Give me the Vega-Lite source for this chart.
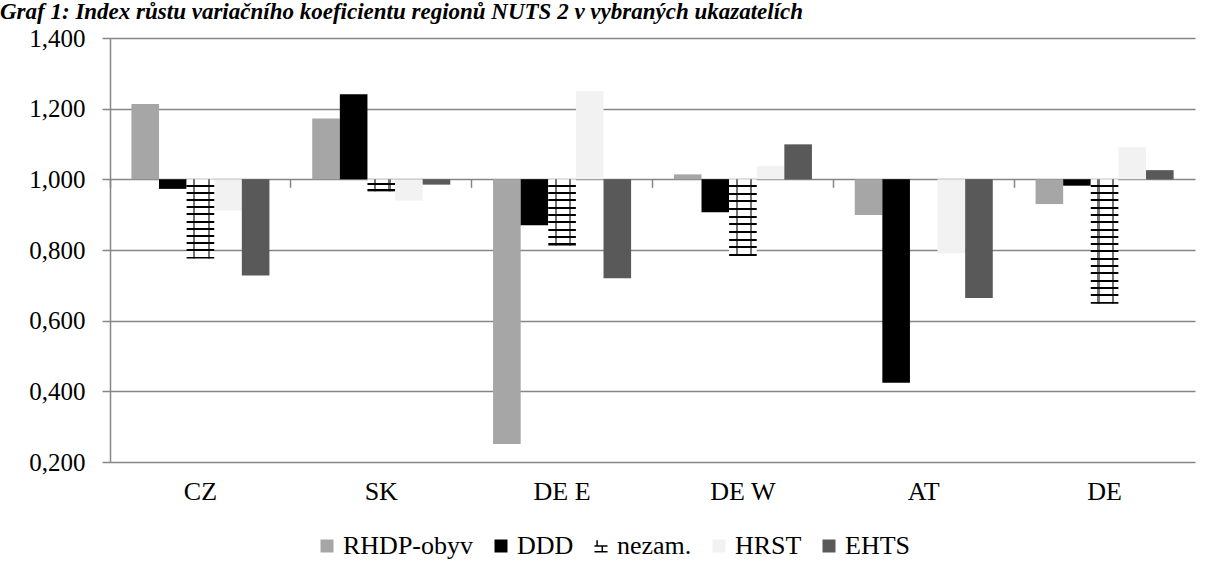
{
  "$schema": "https://vega.github.io/schema/vega-lite/v6.json",
  "width": 1085,
  "height": 424,
  "autosize": {"type": "none"},
  "padding": {"left": 110, "top": 38, "right": 17, "bottom": 116},
  "background": "white",
  "config": {
    "locale": {"number": {"decimal": ",", "thousands": " ", "grouping": [3], "currency": ["", ""]}},
    "font": "Liberation Serif",
    "view": {"stroke": null},
    "axis": {"labelFont": "Liberation Serif", "labelColor": "black"},
    "legend": {"labelFont": "Liberation Serif", "labelColor": "black"}
  },
  "title": {
    "text": "Graf 1: Index růstu variačního koeficientu regionů NUTS 2 v vybraných ukazatelích",
    "anchor": "start",
    "frame": "group",
    "dx": -110,
    "offset": -16,
    "font": "Liberation Serif",
    "fontSize": 23,
    "fontWeight": "bold",
    "fontStyle": "italic",
    "color": "black",
    "baseline": "alphabetic"
  },
  "data": {
    "values": [
      {"country": "CZ", "series": "RHDP-obyv", "value": 1.213},
      {"country": "CZ", "series": "DDD", "value": 0.973},
      {"country": "CZ", "series": "nezam.", "value": 0.776},
      {"country": "CZ", "series": "HRST", "value": 0.911},
      {"country": "CZ", "series": "EHTS", "value": 0.728},
      {"country": "SK", "series": "RHDP-obyv", "value": 1.172},
      {"country": "SK", "series": "DDD", "value": 1.241},
      {"country": "SK", "series": "nezam.", "value": 0.966},
      {"country": "SK", "series": "HRST", "value": 0.94},
      {"country": "SK", "series": "EHTS", "value": 0.985},
      {"country": "DE E", "series": "RHDP-obyv", "value": 0.251},
      {"country": "DE E", "series": "DDD", "value": 0.87},
      {"country": "DE E", "series": "nezam.", "value": 0.813},
      {"country": "DE E", "series": "HRST", "value": 1.25},
      {"country": "DE E", "series": "EHTS", "value": 0.72},
      {"country": "DE W", "series": "RHDP-obyv", "value": 1.014},
      {"country": "DE W", "series": "DDD", "value": 0.907},
      {"country": "DE W", "series": "nezam.", "value": 0.783},
      {"country": "DE W", "series": "HRST", "value": 1.038},
      {"country": "DE W", "series": "EHTS", "value": 1.099},
      {"country": "AT", "series": "RHDP-obyv", "value": 0.899},
      {"country": "AT", "series": "DDD", "value": 0.424},
      {"country": "AT", "series": "nezam.", "value": 1.0},
      {"country": "AT", "series": "HRST", "value": 0.791},
      {"country": "AT", "series": "EHTS", "value": 0.664},
      {"country": "DE", "series": "RHDP-obyv", "value": 0.93},
      {"country": "DE", "series": "DDD", "value": 0.982},
      {"country": "DE", "series": "nezam.", "value": 0.648},
      {"country": "DE", "series": "HRST", "value": 1.091},
      {"country": "DE", "series": "EHTS", "value": 1.026}
    ]
  },
  "encoding": {
    "x": {
      "field": "country",
      "type": "nominal",
      "sort": ["CZ", "SK", "DE E", "DE W", "AT", "DE"],
      "scale": {"paddingInner": 0, "paddingOuter": 0},
      "axis": {
        "title": null,
        "orient": "bottom",
        "offset": -282.67,
        "bandPosition": 0,
        "domain": false,
        "grid": false,
        "tickSize": 8,
        "tickColor": "#868686",
        "tickWidth": 1.5,
        "labelAngle": 0,
        "labelFont": "Liberation Serif",
        "labelColor": "black",
        "labelFontSize": 26,
        "labelPadding": 291
      }
    },
    "xOffset": {
      "field": "series",
      "type": "nominal",
      "scale": {"domain": ["RHDP-obyv", "DDD", "nezam.", "HRST", "EHTS"], "paddingInner": 0, "paddingOuter": 0.775}
    },
    "y": {
      "field": "value",
      "type": "quantitative",
      "scale": {"domain": [0.2, 1.4], "nice": false, "zero": false},
      "axis": {
        "title": null,
        "values": [0.2, 0.4, 0.6, 0.8, 1.0, 1.2, 1.4],
        "format": ".3f",
        "domainColor": "#868686",
        "domainWidth": 1.5,
        "tickColor": "#868686",
        "tickWidth": 1.5,
        "tickSize": 8,
        "gridColor": "#868686",
        "gridWidth": 1.5,
        "labelFont": "Liberation Serif",
        "labelColor": "black",
        "labelFontSize": 25,
        "labelPadding": 17
      }
    },
    "y2": {"datum": 1}
  },
  "layer": [
    {
      "transform": [{"filter": "datum.series !== 'nezam.'"}],
      "mark": {"type": "bar"},
      "encoding": {
        "color": {
          "field": "series",
          "type": "nominal",
          "scale": {
            "domain": ["RHDP-obyv", "DDD", "nezam.", "HRST", "EHTS"],
            "range": ["#a6a6a6", "#000000", "#ffffff", "#f2f2f2", "#595959"]
          },
          "legend": {
            "title": null,
            "orient": "none",
            "direction": "horizontal",
            "legendX": 204,
            "legendY": 495,
            "symbolSize": 169,
            "symbolType": "square",
            "labelFont": "Liberation Serif",
            "labelColor": "black",
            "labelFontSize": 26,
            "labelOffset": 3,
            "columnPadding": 14,
            "labelLimit": 300,
            "encode": {
              "symbols": {
                "update": {
                  "shape": [{"test": "datum.value === 'nezam.'", "value": "M-1,0.9H1M-1,0H1M0.2,0V0.9M-0.6,-0.9V0"}, {"value": "square"}],
                  "stroke": [{"test": "datum.value === 'nezam.'", "value": "#000000"}, {"value": "transparent"}],
                  "strokeWidth": {"value": 1.5}
                }
              }
            }
          }
        }
      }
    },
    {
      "transform": [{"filter": "datum.series === 'nezam.' && datum.country === 'CZ'"}],
      "mark": {
        "type": "bar",
        "fill": {"gradient": "linear", "x1": 0, "y1": 0, "x2": 0, "y2": 1, "stops": [
          {"offset": 0, "color": "#ffffff"}, {"offset": 0.06636, "color": "#ffffff"}, {"offset": 0.06636, "color": "#000000"}, {"offset": 0.09091, "color": "#000000"},
          {"offset": 0.09091, "color": "#ffffff"}, {"offset": 0.15727, "color": "#ffffff"}, {"offset": 0.15727, "color": "#000000"}, {"offset": 0.18182, "color": "#000000"},
          {"offset": 0.18182, "color": "#ffffff"}, {"offset": 0.24818, "color": "#ffffff"}, {"offset": 0.24818, "color": "#000000"}, {"offset": 0.27273, "color": "#000000"},
          {"offset": 0.27273, "color": "#ffffff"}, {"offset": 0.33909, "color": "#ffffff"}, {"offset": 0.33909, "color": "#000000"}, {"offset": 0.36364, "color": "#000000"},
          {"offset": 0.36364, "color": "#ffffff"}, {"offset": 0.43, "color": "#ffffff"}, {"offset": 0.43, "color": "#000000"}, {"offset": 0.45455, "color": "#000000"},
          {"offset": 0.45455, "color": "#ffffff"}, {"offset": 0.52091, "color": "#ffffff"}, {"offset": 0.52091, "color": "#000000"}, {"offset": 0.54545, "color": "#000000"},
          {"offset": 0.54545, "color": "#ffffff"}, {"offset": 0.61182, "color": "#ffffff"}, {"offset": 0.61182, "color": "#000000"}, {"offset": 0.63636, "color": "#000000"},
          {"offset": 0.63636, "color": "#ffffff"}, {"offset": 0.70273, "color": "#ffffff"}, {"offset": 0.70273, "color": "#000000"}, {"offset": 0.72727, "color": "#000000"},
          {"offset": 0.72727, "color": "#ffffff"}, {"offset": 0.79364, "color": "#ffffff"}, {"offset": 0.79364, "color": "#000000"}, {"offset": 0.81818, "color": "#000000"},
          {"offset": 0.81818, "color": "#ffffff"}, {"offset": 0.88455, "color": "#ffffff"}, {"offset": 0.88455, "color": "#000000"}, {"offset": 0.90909, "color": "#000000"},
          {"offset": 0.90909, "color": "#ffffff"}, {"offset": 0.97545, "color": "#ffffff"}, {"offset": 0.97545, "color": "#000000"}, {"offset": 1, "color": "#000000"}
        ]}
      },
      "encoding": {}
    },
    {
      "transform": [{"filter": "datum.series === 'nezam.' && datum.country === 'SK'"}],
      "mark": {
        "type": "bar",
        "fill": {"gradient": "linear", "x1": 0, "y1": 0, "x2": 0, "y2": 1, "stops": [
          {"offset": 0, "color": "#ffffff"}, {"offset": 0.333, "color": "#ffffff"}, {"offset": 0.333, "color": "#000000"}, {"offset": 0.5, "color": "#000000"},
          {"offset": 0.5, "color": "#ffffff"}, {"offset": 0.833, "color": "#ffffff"}, {"offset": 0.833, "color": "#000000"}, {"offset": 1, "color": "#000000"}
        ]}
      },
      "encoding": {}
    },
    {
      "transform": [{"filter": "datum.series === 'nezam.' && datum.country === 'DE E'"}],
      "mark": {
        "type": "bar",
        "fill": {"gradient": "linear", "x1": 0, "y1": 0, "x2": 0, "y2": 1, "stops": [
          {"offset": 0, "color": "#ffffff"}, {"offset": 0.0808, "color": "#ffffff"}, {"offset": 0.0808, "color": "#000000"}, {"offset": 0.1111, "color": "#000000"},
          {"offset": 0.1111, "color": "#ffffff"}, {"offset": 0.1919, "color": "#ffffff"}, {"offset": 0.1919, "color": "#000000"}, {"offset": 0.2222, "color": "#000000"},
          {"offset": 0.2222, "color": "#ffffff"}, {"offset": 0.303, "color": "#ffffff"}, {"offset": 0.303, "color": "#000000"}, {"offset": 0.3333, "color": "#000000"},
          {"offset": 0.3333, "color": "#ffffff"}, {"offset": 0.4141, "color": "#ffffff"}, {"offset": 0.4141, "color": "#000000"}, {"offset": 0.4444, "color": "#000000"},
          {"offset": 0.4444, "color": "#ffffff"}, {"offset": 0.5253, "color": "#ffffff"}, {"offset": 0.5253, "color": "#000000"}, {"offset": 0.5556, "color": "#000000"},
          {"offset": 0.5556, "color": "#ffffff"}, {"offset": 0.6364, "color": "#ffffff"}, {"offset": 0.6364, "color": "#000000"}, {"offset": 0.6667, "color": "#000000"},
          {"offset": 0.6667, "color": "#ffffff"}, {"offset": 0.7475, "color": "#ffffff"}, {"offset": 0.7475, "color": "#000000"}, {"offset": 0.7778, "color": "#000000"},
          {"offset": 0.7778, "color": "#ffffff"}, {"offset": 0.8586, "color": "#ffffff"}, {"offset": 0.8586, "color": "#000000"}, {"offset": 0.8889, "color": "#000000"},
          {"offset": 0.8889, "color": "#ffffff"}, {"offset": 0.9697, "color": "#ffffff"}, {"offset": 0.9697, "color": "#000000"}, {"offset": 1, "color": "#000000"}
        ]}
      },
      "encoding": {}
    },
    {
      "transform": [{"filter": "datum.series === 'nezam.' && datum.country === 'DE W'"}],
      "mark": {
        "type": "bar",
        "fill": {"gradient": "linear", "x1": 0, "y1": 0, "x2": 0, "y2": 1, "stops": [
          {"offset": 0, "color": "#ffffff"}, {"offset": 0.074, "color": "#ffffff"}, {"offset": 0.074, "color": "#000000"}, {"offset": 0.1, "color": "#000000"},
          {"offset": 0.1, "color": "#ffffff"}, {"offset": 0.174, "color": "#ffffff"}, {"offset": 0.174, "color": "#000000"}, {"offset": 0.2, "color": "#000000"},
          {"offset": 0.2, "color": "#ffffff"}, {"offset": 0.274, "color": "#ffffff"}, {"offset": 0.274, "color": "#000000"}, {"offset": 0.3, "color": "#000000"},
          {"offset": 0.3, "color": "#ffffff"}, {"offset": 0.374, "color": "#ffffff"}, {"offset": 0.374, "color": "#000000"}, {"offset": 0.4, "color": "#000000"},
          {"offset": 0.4, "color": "#ffffff"}, {"offset": 0.474, "color": "#ffffff"}, {"offset": 0.474, "color": "#000000"}, {"offset": 0.5, "color": "#000000"},
          {"offset": 0.5, "color": "#ffffff"}, {"offset": 0.574, "color": "#ffffff"}, {"offset": 0.574, "color": "#000000"}, {"offset": 0.6, "color": "#000000"},
          {"offset": 0.6, "color": "#ffffff"}, {"offset": 0.674, "color": "#ffffff"}, {"offset": 0.674, "color": "#000000"}, {"offset": 0.7, "color": "#000000"},
          {"offset": 0.7, "color": "#ffffff"}, {"offset": 0.774, "color": "#ffffff"}, {"offset": 0.774, "color": "#000000"}, {"offset": 0.8, "color": "#000000"},
          {"offset": 0.8, "color": "#ffffff"}, {"offset": 0.874, "color": "#ffffff"}, {"offset": 0.874, "color": "#000000"}, {"offset": 0.9, "color": "#000000"},
          {"offset": 0.9, "color": "#ffffff"}, {"offset": 0.974, "color": "#ffffff"}, {"offset": 0.974, "color": "#000000"}, {"offset": 1, "color": "#000000"}
        ]}
      },
      "encoding": {}
    },
    {
      "transform": [{"filter": "datum.series === 'nezam.' && datum.country === 'DE'"}],
      "mark": {
        "type": "bar",
        "fill": {"gradient": "linear", "x1": 0, "y1": 0, "x2": 0, "y2": 1, "stops": [
          {"offset": 0, "color": "#ffffff"}, {"offset": 0.04272, "color": "#ffffff"}, {"offset": 0.04272, "color": "#000000"}, {"offset": 0.05882, "color": "#000000"},
          {"offset": 0.05882, "color": "#ffffff"}, {"offset": 0.10155, "color": "#ffffff"}, {"offset": 0.10155, "color": "#000000"}, {"offset": 0.11765, "color": "#000000"},
          {"offset": 0.11765, "color": "#ffffff"}, {"offset": 0.16037, "color": "#ffffff"}, {"offset": 0.16037, "color": "#000000"}, {"offset": 0.17647, "color": "#000000"},
          {"offset": 0.17647, "color": "#ffffff"}, {"offset": 0.21919, "color": "#ffffff"}, {"offset": 0.21919, "color": "#000000"}, {"offset": 0.23529, "color": "#000000"},
          {"offset": 0.23529, "color": "#ffffff"}, {"offset": 0.27802, "color": "#ffffff"}, {"offset": 0.27802, "color": "#000000"}, {"offset": 0.29412, "color": "#000000"},
          {"offset": 0.29412, "color": "#ffffff"}, {"offset": 0.33684, "color": "#ffffff"}, {"offset": 0.33684, "color": "#000000"}, {"offset": 0.35294, "color": "#000000"},
          {"offset": 0.35294, "color": "#ffffff"}, {"offset": 0.39566, "color": "#ffffff"}, {"offset": 0.39566, "color": "#000000"}, {"offset": 0.41176, "color": "#000000"},
          {"offset": 0.41176, "color": "#ffffff"}, {"offset": 0.45449, "color": "#ffffff"}, {"offset": 0.45449, "color": "#000000"}, {"offset": 0.47059, "color": "#000000"},
          {"offset": 0.47059, "color": "#ffffff"}, {"offset": 0.51331, "color": "#ffffff"}, {"offset": 0.51331, "color": "#000000"}, {"offset": 0.52941, "color": "#000000"},
          {"offset": 0.52941, "color": "#ffffff"}, {"offset": 0.57214, "color": "#ffffff"}, {"offset": 0.57214, "color": "#000000"}, {"offset": 0.58824, "color": "#000000"},
          {"offset": 0.58824, "color": "#ffffff"}, {"offset": 0.63096, "color": "#ffffff"}, {"offset": 0.63096, "color": "#000000"}, {"offset": 0.64706, "color": "#000000"},
          {"offset": 0.64706, "color": "#ffffff"}, {"offset": 0.68978, "color": "#ffffff"}, {"offset": 0.68978, "color": "#000000"}, {"offset": 0.70588, "color": "#000000"},
          {"offset": 0.70588, "color": "#ffffff"}, {"offset": 0.74861, "color": "#ffffff"}, {"offset": 0.74861, "color": "#000000"}, {"offset": 0.76471, "color": "#000000"},
          {"offset": 0.76471, "color": "#ffffff"}, {"offset": 0.80743, "color": "#ffffff"}, {"offset": 0.80743, "color": "#000000"}, {"offset": 0.82353, "color": "#000000"},
          {"offset": 0.82353, "color": "#ffffff"}, {"offset": 0.86625, "color": "#ffffff"}, {"offset": 0.86625, "color": "#000000"}, {"offset": 0.88235, "color": "#000000"},
          {"offset": 0.88235, "color": "#ffffff"}, {"offset": 0.92508, "color": "#ffffff"}, {"offset": 0.92508, "color": "#000000"}, {"offset": 0.94118, "color": "#000000"},
          {"offset": 0.94118, "color": "#ffffff"}, {"offset": 0.9839, "color": "#ffffff"}, {"offset": 0.9839, "color": "#000000"}, {"offset": 1, "color": "#000000"}
        ]}
      },
      "encoding": {}
    },
    {
      "transform": [{"filter": "datum.series === 'nezam.' && datum.value < 1"}],
      "mark": {
        "type": "bar",
        "fill": {"gradient": "linear", "x1": 0, "y1": 0, "x2": 1, "y2": 0, "stops": [
          {"offset": 0, "color": "rgba(0,0,0,0)"}, {"offset": 0.24, "color": "rgba(0,0,0,0)"}, {"offset": 0.24, "color": "rgba(0,0,0,0.55)"}, {"offset": 0.32, "color": "rgba(0,0,0,0.55)"},
          {"offset": 0.32, "color": "rgba(0,0,0,0)"}, {"offset": 0.76, "color": "rgba(0,0,0,0)"}, {"offset": 0.76, "color": "rgba(0,0,0,0.55)"}, {"offset": 0.84, "color": "rgba(0,0,0,0.55)"},
          {"offset": 0.84, "color": "rgba(0,0,0,0)"}, {"offset": 1, "color": "rgba(0,0,0,0)"}
        ]}
      },
      "encoding": {}
    }
  ]
}
